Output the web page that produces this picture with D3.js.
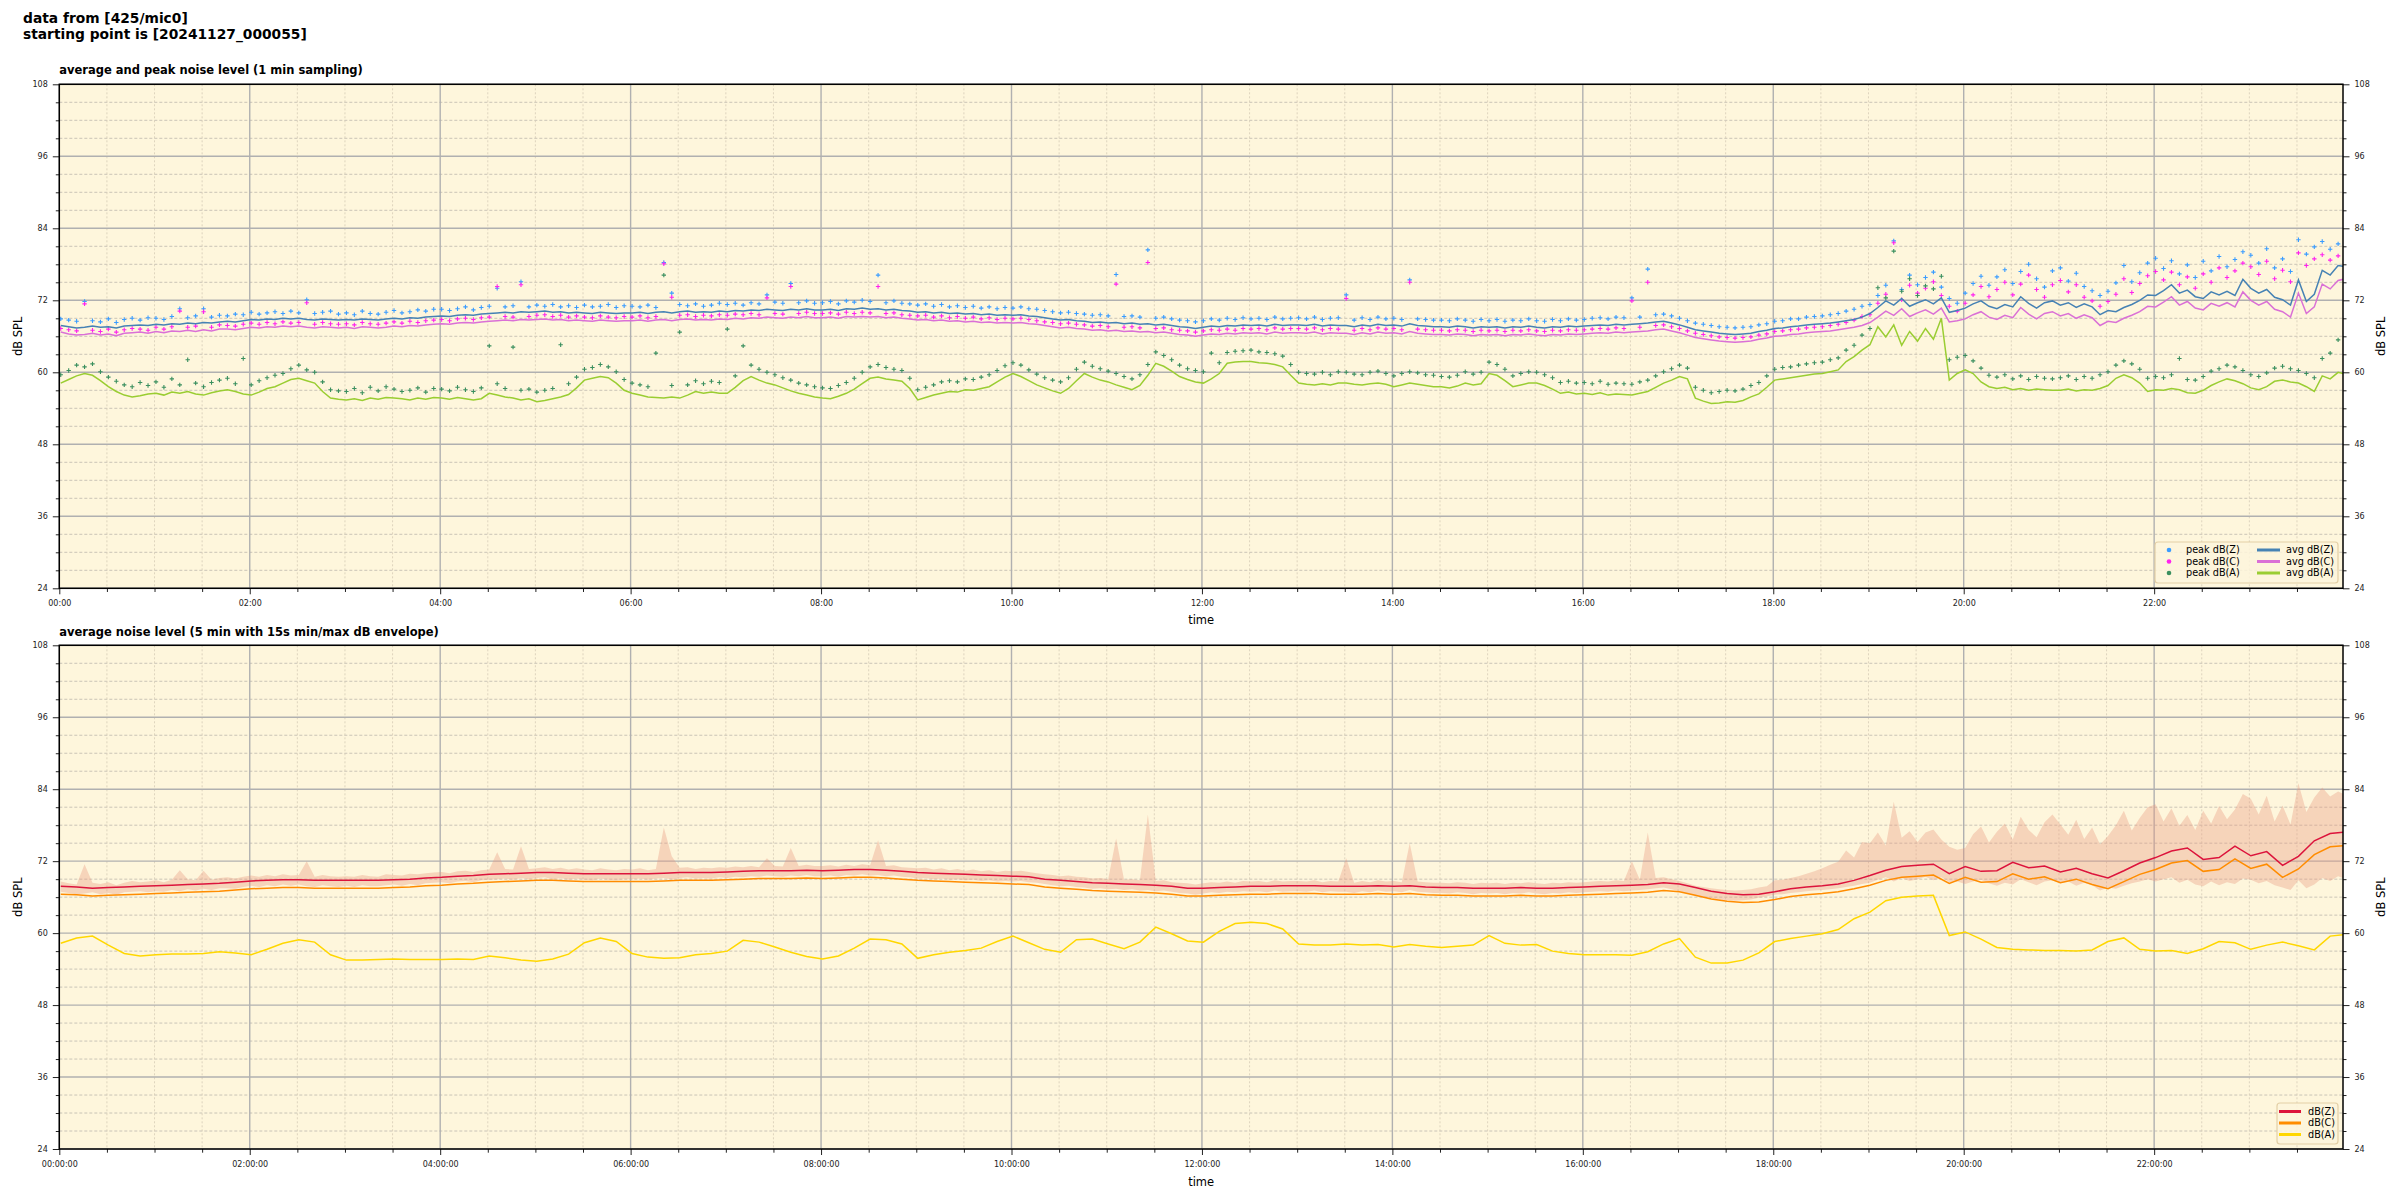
<!DOCTYPE html>
<html><head><meta charset="utf-8">
<script src="https://cdn.jsdelivr.net/npm/d3@7"></script>
<style>body{margin:0;background:#fff}svg{display:block}text{font-family:"DejaVu Sans",sans-serif}</style>
</head><body><svg id="c" width="2400" height="1200"></svg>
<script>
// ---------------- DATA ----------------
const source = "425/mic0";
const startStamp = "20241127_000055";
const yTickValues = [24, 36, 48, 60, 72, 84, 96, 108];
const xTickHours = [0, 2, 4, 6, 8, 10, 12, 14, 16, 18, 20, 22];
const xTickLabelsTop = ["00:00","02:00","04:00","06:00","08:00","10:00","12:00","14:00","16:00","18:00","20:00","22:00"];
const xTickLabelsBottom = ["00:00:00","02:00:00","04:00:00","06:00:00","08:00:00","10:00:00","12:00:00","14:00:00","16:00:00","18:00:00","20:00:00","22:00:00"];

// top panel, one value every 5 min from 00:00:55 (last value sits at the right edge)
const avgZ = [
67.8,67.6,67.4,67.5,67.7,67.5,67.6,67.4,67.7,67.8,67.9,67.8,
68.0,67.9,68.1,68.0,68.2,68.1,68.3,68.2,68.4,68.5,68.4,68.6,
68.8,68.7,68.9,68.8,69.0,68.9,69.0,68.8,68.7,68.9,68.8,68.7,
68.8,68.7,68.9,68.8,68.7,68.9,69.0,68.9,69.1,69.0,69.2,69.3,
69.4,69.3,69.5,69.6,69.5,69.7,69.8,69.9,70.0,69.9,70.1,70.0,
70.1,70.2,70.0,70.1,69.9,70.0,69.9,69.8,70.0,69.9,69.8,69.9,
69.9,70.0,69.8,70.0,70.1,69.9,70.1,70.2,70.0,70.1,70.0,70.2,
70.1,70.3,70.2,70.4,70.3,70.5,70.4,70.3,70.5,70.4,70.6,70.4,
70.4,70.5,70.3,70.6,70.5,70.7,70.5,70.6,70.4,70.5,70.3,70.2,
70.0,70.1,69.9,70.0,69.8,69.9,69.7,69.8,69.6,69.7,69.5,69.6,
69.5,69.6,69.4,69.3,69.1,68.9,68.7,68.8,68.6,68.5,68.3,68.4,
68.2,68.3,68.1,68.2,68.0,68.1,67.9,68.0,67.8,67.6,67.5,67.3,
67.5,67.7,67.6,67.8,67.7,67.9,67.8,67.9,67.7,68.0,67.8,67.9,
67.9,67.8,68.0,67.7,67.9,67.8,67.8,67.6,67.9,67.7,68.0,67.8,
67.9,67.7,68.1,67.8,67.7,67.6,67.6,67.5,67.7,67.6,67.4,67.6,
67.5,67.6,67.4,67.6,67.5,67.7,67.5,67.4,67.6,67.5,67.7,67.6,
67.7,67.8,67.9,67.8,68.0,67.9,68.0,68.1,68.2,68.4,68.5,68.2,
67.9,67.5,67.1,66.9,66.7,66.5,66.4,66.3,66.4,66.5,66.8,67.0,
67.3,67.4,67.6,67.7,67.9,68.0,68.1,68.2,68.4,68.6,68.8,69.2,
69.8,70.8,71.9,71.2,72.3,71.0,71.6,72.1,71.4,72.4,70.0,70.3,
70.7,71.4,71.9,71.0,70.6,71.3,70.9,72.6,71.5,70.7,71.6,71.9,
71.2,71.6,70.8,71.4,70.9,69.6,70.3,70.1,70.8,71.3,72.0,72.9,
72.8,73.6,74.6,73.2,73.7,72.6,72.3,73.4,72.9,73.5,72.8,75.5,
74.0,73.2,73.8,72.5,72.1,71.2,75.4,71.8,73.0,77.0,76.2,77.8,
77.6];
const avgC = [
66.7,66.4,66.2,66.3,66.5,66.2,66.4,66.1,66.5,66.6,66.7,66.5,
66.8,66.6,66.9,66.8,67.0,66.8,67.1,66.9,67.2,67.2,67.1,67.3,
67.5,67.4,67.6,67.5,67.7,67.6,67.7,67.5,67.4,67.6,67.5,67.4,
67.5,67.3,67.6,67.5,67.4,67.5,67.7,67.6,67.8,67.7,67.9,68.0,
68.1,68.0,68.2,68.3,68.2,68.4,68.5,68.6,68.7,68.6,68.8,68.7,
68.8,68.9,68.7,68.8,68.6,68.7,68.6,68.5,68.7,68.6,68.5,68.6,
68.6,68.7,68.5,68.7,68.8,68.6,68.8,68.9,68.7,68.8,68.7,68.9,
68.8,69.0,68.9,69.1,69.0,69.2,69.1,69.0,69.2,69.1,69.3,69.1,
69.1,69.2,69.0,69.3,69.2,69.3,69.2,69.3,69.1,69.2,69.0,68.9,
68.7,68.8,68.6,68.7,68.5,68.6,68.4,68.5,68.3,68.4,68.2,68.3,
68.2,68.3,68.1,68.0,67.8,67.6,67.4,67.5,67.3,67.2,67.0,67.1,
66.9,67.0,66.8,66.9,66.7,66.8,66.6,66.7,66.5,66.3,66.2,66.0,
66.2,66.4,66.3,66.5,66.4,66.6,66.5,66.6,66.4,66.7,66.5,66.6,
66.6,66.5,66.7,66.4,66.6,66.5,66.5,66.3,66.6,66.4,66.7,66.5,
66.6,66.4,66.8,66.5,66.4,66.3,66.3,66.2,66.4,66.3,66.1,66.3,
66.2,66.3,66.1,66.3,66.2,66.4,66.2,66.1,66.3,66.2,66.4,66.3,
66.4,66.5,66.6,66.5,66.7,66.6,66.7,66.8,66.9,67.1,67.2,66.9,
66.6,66.2,65.8,65.6,65.4,65.2,65.1,65.0,65.1,65.2,65.5,65.7,
66.0,66.1,66.3,66.4,66.6,66.7,66.8,66.9,67.1,67.3,67.5,67.8,
68.3,69.2,70.2,69.5,70.6,69.3,69.9,70.4,69.7,70.7,68.4,68.6,
68.9,69.6,70.1,69.2,68.8,69.5,69.1,70.8,69.7,68.9,69.8,70.1,
69.4,69.8,69.0,69.6,69.1,67.8,68.5,68.3,69.0,69.5,70.1,71.0,
70.9,71.7,72.6,71.2,71.8,70.7,70.4,71.5,71.0,71.6,70.9,73.4,
72.0,71.2,71.8,70.5,70.1,69.2,73.2,69.8,70.9,74.7,73.9,75.3,
75.6];
const avgA = [
58.2,58.8,59.4,59.8,59.5,58.6,57.6,56.8,56.2,55.9,56.1,56.4,
56.5,56.2,56.7,56.5,56.8,56.4,56.2,56.6,56.9,57.1,56.8,56.4,
56.2,56.7,57.3,57.6,58.2,58.8,59.0,58.6,58.2,56.8,55.7,55.5,
55.4,55.6,55.3,55.7,55.5,55.8,55.7,55.6,55.4,55.7,55.5,55.8,
55.7,55.5,55.8,55.6,55.4,55.6,56.5,56.2,55.9,55.7,55.4,55.6,
55.1,55.3,55.6,55.9,56.3,57.4,58.7,59.0,59.3,59.1,58.2,57.0,
56.5,56.2,55.9,55.8,55.7,55.9,55.7,56.2,56.8,56.5,56.7,56.5,
56.5,57.5,58.6,59.3,58.7,58.2,57.9,57.4,56.9,56.5,56.2,55.9,
55.7,55.6,56.0,56.5,57.2,58.1,59.0,59.2,58.9,58.7,58.5,57.3,
55.4,55.8,56.2,56.5,56.8,56.7,57.1,57.0,57.3,57.6,58.4,59.2,
59.8,59.3,58.6,57.9,57.4,56.9,56.5,57.3,58.6,59.8,59.2,58.7,
58.4,57.9,57.5,57.1,57.8,59.5,61.5,61.0,60.2,59.3,58.8,58.4,
58.2,58.9,59.8,61.5,61.7,61.8,61.8,61.6,61.5,61.3,60.9,59.5,
58.2,58.0,57.9,58.1,57.9,58.2,58.2,58.0,57.9,58.1,58.2,58.0,
57.6,57.9,58.2,58.0,57.8,57.6,57.6,57.4,57.7,58.2,57.9,58.1,
59.8,59.5,58.6,57.6,57.9,58.2,58.2,57.8,57.2,56.5,56.7,56.4,
56.5,56.3,56.6,56.2,56.4,56.3,56.2,56.5,56.8,57.5,58.2,58.7,
59.3,58.9,55.7,55.2,54.8,54.9,55.1,55.0,55.3,55.9,56.4,57.5,
58.7,58.9,59.1,59.3,59.5,59.7,59.8,60.1,60.4,61.8,62.6,63.7,
64.6,67.6,65.9,67.9,64.5,66.8,65.2,67.3,65.5,69.0,58.7,59.8,
60.4,59.8,58.4,57.6,57.3,57.5,57.1,57.3,57.0,57.2,57.1,57.0,
57.0,57.2,56.9,57.1,57.0,57.3,57.8,59.0,59.6,59.1,58.2,56.8,
57.1,57.0,57.3,57.1,56.6,56.5,57.0,57.8,58.4,58.9,58.6,58.1,
57.4,57.1,57.6,58.5,58.7,58.4,58.2,57.6,56.8,59.4,58.9,60.0,
59.7];
const peakZ = [
68.9,68.7,68.5,71.8,68.6,68.4,68.9,68.3,68.8,69.0,68.7,69.1,
69.0,68.8,69.3,70.6,69.1,69.4,70.6,69.2,69.5,69.4,69.7,69.6,
70.0,69.7,69.9,70.1,69.8,70.2,69.9,72.1,69.8,70.0,70.2,69.7,
69.9,69.6,70.2,69.8,69.7,70.0,70.3,69.9,70.1,70.4,70.2,70.5,
70.5,70.3,70.6,70.9,70.4,70.8,71.0,74.0,70.9,71.1,75.1,70.9,
71.2,71.0,71.3,70.9,71.1,70.8,71.2,70.9,71.0,71.3,70.8,71.1,
71.0,70.9,71.2,70.8,78.3,73.2,71.3,71.1,71.4,71.0,71.2,71.5,
71.3,71.5,71.2,71.6,71.4,72.9,71.7,71.5,74.8,71.6,71.9,71.5,
71.6,71.8,71.4,71.9,71.7,72.0,71.8,76.2,71.6,71.9,71.5,71.4,
71.2,71.4,71.0,71.3,70.9,71.1,70.8,71.0,70.7,70.9,70.6,70.8,
70.7,70.9,70.6,70.5,70.3,70.1,69.9,70.0,69.8,69.7,69.5,69.6,
69.4,76.3,69.3,69.4,69.2,80.4,69.0,69.2,68.9,68.7,68.6,68.4,
68.6,68.9,68.7,69.0,68.8,69.1,68.9,69.0,68.8,69.2,68.9,69.0,
69.1,68.9,69.2,68.8,69.0,69.1,72.9,68.7,69.1,68.8,69.2,68.9,
69.0,68.8,75.4,68.9,68.8,68.7,68.7,68.6,68.9,68.7,68.5,68.8,
68.6,68.8,68.5,68.7,68.6,68.9,68.6,68.5,68.8,68.6,68.9,68.7,
68.8,69.0,69.1,68.9,69.2,69.1,72.4,69.2,77.2,69.6,69.7,69.4,
69.0,68.6,68.2,68.0,67.8,67.6,67.5,67.4,67.5,67.6,67.9,68.1,
68.5,68.6,68.9,68.9,69.2,69.3,69.4,69.6,69.8,70.2,70.5,71.0,
71.3,72.8,74.5,81.9,73.8,76.2,74.6,75.8,76.7,74.2,72.3,71.5,
73.2,74.8,76.0,74.5,75.9,77.1,74.8,76.8,78.0,75.6,74.2,76.9,
77.4,75.2,76.5,74.3,73.6,72.8,73.5,74.9,77.8,75.1,76.6,78.2,
79.0,77.3,78.6,76.4,77.9,75.8,78.5,76.9,79.3,77.6,78.8,80.1,
79.5,78.2,80.6,77.4,78.9,76.8,82.1,79.7,80.9,81.8,80.5,81.4,
83.0];
const peakC = [
67.3,67.1,66.9,71.4,67.0,66.8,67.2,66.7,67.1,67.3,67.2,67.0,
67.5,67.2,67.6,70.2,67.5,67.7,70.1,67.5,67.9,67.8,67.7,68.0,
68.2,68.0,68.3,68.1,68.4,68.2,68.3,71.6,68.0,68.3,68.1,68.0,
68.1,67.9,68.3,68.1,68.0,68.2,68.4,68.2,68.5,68.3,68.6,68.7,
68.8,68.6,68.9,69.0,68.8,69.1,69.2,74.3,69.3,69.2,74.6,69.3,
69.5,69.6,69.3,69.5,69.2,69.4,69.2,69.1,69.4,69.2,69.1,69.3,
69.2,69.4,69.1,69.3,78.1,72.5,69.5,69.6,69.3,69.5,69.4,69.6,
69.5,69.7,69.6,69.8,69.6,72.4,69.8,69.7,74.3,69.8,70.0,69.8,
69.8,69.9,69.7,70.0,69.8,70.0,69.9,74.3,69.8,69.9,69.6,69.5,
69.4,69.5,69.2,69.4,69.1,69.3,69.0,69.2,68.9,69.1,68.8,69.0,
68.9,69.0,68.8,68.6,68.4,68.3,68.1,68.2,68.0,67.9,67.7,67.8,
67.6,74.7,67.5,67.6,67.4,78.3,67.3,67.4,67.1,67.0,66.9,66.7,
66.9,67.1,67.0,67.2,67.0,67.3,67.2,67.3,67.1,67.4,67.2,67.3,
67.3,67.2,67.4,67.1,67.3,67.2,72.3,67.0,67.3,67.1,67.4,67.2,
67.3,67.1,75.0,67.2,67.1,67.0,67.0,66.9,67.1,67.0,66.8,67.0,
66.9,67.0,66.8,67.0,66.9,67.1,66.9,66.8,67.0,66.9,67.1,67.0,
67.1,67.2,67.3,67.2,67.4,67.3,71.9,67.5,75.0,67.8,67.9,67.6,
67.3,66.9,66.5,66.3,66.1,65.9,65.8,65.7,65.8,65.9,66.2,66.4,
66.8,66.9,67.1,67.2,67.4,67.5,67.6,67.8,68.0,68.3,68.7,69.3,
69.6,71.5,73.0,81.6,72.1,74.5,73.2,74.0,75.1,72.8,71.0,70.2,
71.5,72.9,74.3,72.6,73.8,75.0,72.9,74.7,76.2,73.8,72.5,74.6,
75.3,73.4,74.6,72.5,71.9,71.0,71.8,73.0,75.6,73.3,74.8,76.1,
76.8,75.4,76.7,74.6,75.9,74.0,76.4,75.0,77.4,75.8,76.9,78.2,
77.6,76.3,78.5,75.6,77.0,75.1,79.9,77.8,78.9,79.6,78.7,79.4,
81.0];
const peakA = [
59.6,60.3,61.2,60.9,61.4,60.1,59.2,58.5,57.9,57.6,58.3,57.8,
58.4,57.5,58.9,57.9,62.1,58.2,57.6,58.3,58.7,59.0,58.1,62.3,
57.9,58.6,59.1,59.5,59.8,60.6,61.2,60.4,60.0,58.4,57.1,56.9,
56.8,57.3,56.6,57.5,56.9,57.6,57.2,56.8,57.0,57.4,56.7,57.3,
57.2,56.9,57.5,57.1,56.8,57.4,64.4,58.1,57.3,64.2,57.0,57.2,
56.7,57.0,57.3,64.6,58.1,59.2,60.5,60.8,61.3,60.9,60.1,58.8,
58.2,57.9,57.6,63.2,76.2,57.8,66.7,57.9,58.6,58.1,58.5,58.3,
67.2,59.4,64.4,61.2,60.5,60.0,59.6,59.1,58.7,58.2,57.9,57.6,
57.4,57.3,57.8,58.3,59.0,60.0,60.9,61.3,60.8,60.5,60.3,59.0,
57.1,57.5,57.9,58.4,58.6,58.4,58.9,58.8,59.2,59.6,60.3,61.1,
61.6,61.2,60.4,59.7,59.1,58.7,58.4,59.1,60.5,61.7,61.0,60.6,
60.2,59.8,59.3,58.9,59.6,61.3,63.4,62.8,62.1,61.2,60.6,60.3,
60.1,63.2,61.6,63.3,63.5,63.6,63.7,63.4,63.3,63.1,62.7,61.3,
60.0,59.8,59.7,60.0,59.6,60.1,60.0,59.7,59.6,60.0,60.2,59.8,
59.4,59.8,60.1,59.9,59.6,59.5,59.3,59.2,59.5,60.1,59.7,60.0,
61.7,61.3,60.5,59.4,59.8,60.1,60.0,59.6,59.1,58.3,58.5,58.2,
58.3,58.1,58.5,58.0,58.2,58.1,58.0,58.4,58.7,59.4,60.1,60.6,
61.2,60.7,57.5,57.0,56.6,56.8,57.0,56.9,57.2,57.8,58.3,59.4,
60.5,60.8,60.9,61.2,61.4,61.6,61.7,62.1,62.4,63.7,64.5,66.2,
67.3,74.1,72.4,80.2,73.5,75.6,72.8,74.4,73.9,76.0,62.1,62.5,
62.8,61.9,60.7,59.5,59.2,59.6,58.9,59.4,58.8,59.3,59.0,58.9,
59.1,59.4,58.8,59.3,59.0,59.6,60.1,61.2,61.9,61.4,60.5,59.0,
59.3,59.1,59.6,62.3,58.8,58.7,59.3,60.2,60.6,61.2,60.9,60.3,
59.6,59.3,59.9,60.7,61.0,60.6,60.3,59.8,59.1,62.3,63.2,65.4,
64.2];

// bottom panel: 5 min averages, one value every 10 min from 00:00:55 (last value at the right edge)
const dBZ = [
67.8,67.7,67.5,67.6,67.7,67.8, 67.9,68.0,68.1,68.2,68.3,68.5,
68.7,68.8,68.9,68.9,68.8,68.8, 68.8,68.8,68.8,68.9,69.0,69.2,
69.3,69.5,69.6,69.8,69.9,70.0, 70.1,70.1,70.0,69.9,69.9,69.9,
69.9,69.9,70.0,70.1,70.1,70.1, 70.2,70.3,70.4,70.4,70.4,70.5,
70.4,70.5,70.6,70.6,70.5,70.3, 70.1,70.0,69.9,69.8,69.7,69.6,
69.5,69.4,69.0,68.8,68.6,68.4, 68.3,68.2,68.1,68.0,67.8,67.5,
67.5,67.6,67.7,67.8,67.8,67.9, 67.9,67.9,67.8,67.8,67.8,67.9,
67.8,67.9,67.7,67.6,67.6,67.5, 67.5,67.5,67.6,67.5,67.5,67.6,
67.7,67.8,67.9,68.0,68.1,68.4, 68.2,67.6,67.0,66.6,66.4,66.5,
66.9,67.4,67.7,67.9,68.2,68.8, 69.6,70.5,71.1,71.3,71.5,69.9,
71.1,70.3,70.4,71.8,70.9,71.2, 70.2,70.8,69.9,69.2,70.4,71.7,
72.6,73.7,74.2,72.3,72.6,74.5, 72.9,73.6,71.3,72.8,75.4,76.6,
76.9];
const dBC = [
66.5,66.4,66.2,66.3,66.4,66.5, 66.6,66.7,66.8,66.9,67.0,67.2,
67.4,67.5,67.6,67.6,67.5,67.5, 67.5,67.5,67.5,67.6,67.7,67.9,
68.0,68.2,68.3,68.5,68.6,68.7, 68.8,68.8,68.7,68.6,68.6,68.6,
68.6,68.6,68.7,68.8,68.8,68.8, 68.9,69.0,69.1,69.1,69.1,69.2,
69.1,69.2,69.3,69.3,69.2,69.0, 68.8,68.7,68.6,68.5,68.4,68.3,
68.2,68.1,67.7,67.5,67.3,67.1, 67.0,66.9,66.8,66.7,66.5,66.2,
66.2,66.3,66.4,66.5,66.5,66.6, 66.6,66.6,66.5,66.5,66.5,66.6,
66.5,66.6,66.4,66.3,66.3,66.2, 66.2,66.2,66.3,66.2,66.2,66.3,
66.4,66.5,66.6,66.7,66.8,67.1, 66.9,66.3,65.7,65.3,65.1,65.2,
65.6,66.1,66.4,66.6,66.9,67.4, 68.0,68.8,69.3,69.5,69.7,68.3,
69.3,68.5,68.6,69.9,69.0,69.4, 68.4,69.0,68.1,67.4,68.6,69.8,
70.6,71.7,72.1,70.3,70.6,72.4, 70.8,71.5,69.3,70.7,73.1,74.4,
74.6];
const dBA = [
58.3,59.2,59.5,58.0,56.6,56.2, 56.4,56.5,56.5,56.6,56.9,56.7,
56.4,57.3,58.3,58.9,58.5,56.4, 55.5,55.5,55.6,55.7,55.6,55.6,
55.6,55.7,55.6,56.2,55.9,55.5, 55.3,55.7,56.5,58.4,59.2,58.6,
56.6,56.0,55.8,55.9,56.4,56.6, 57.0,58.8,58.5,57.7,56.8,56.1,
55.7,56.2,57.5,59.0,58.9,58.2, 55.8,56.4,56.8,57.1,57.5,58.6,
59.5,58.4,57.3,56.8,58.9,59.0, 58.2,57.4,58.5,61.0,59.9,58.7,
58.5,60.3,61.6,61.8,61.6,60.7, 58.2,58.0,58.0,58.2,58.0,58.1,
57.7,58.1,57.8,57.6,57.8,58.0, 59.6,58.3,58.0,58.1,57.0,56.6,
56.4,56.4,56.4,56.3,56.9,58.2, 59.1,56.0,55.0,55.0,55.5,56.7,
58.6,59.1,59.5,59.9,60.6,62.4, 63.5,65.4,66.0,66.2,66.3,59.6,
60.2,59.0,57.6,57.3,57.2,57.1, 57.1,57.0,57.2,58.6,59.2,57.3,
57.0,57.1,56.6,57.4,58.6,58.4, 57.3,58.0,58.5,57.9,57.2,59.5,
59.8];
// 15 s min / max envelope, one value every 5 min from 00:00:55
const envMax = [
68.6,68.3,68.1,71.5,68.4,68.2,68.5,68.0,68.4,68.7,68.5,68.6,
68.8,68.5,68.9,70.5,69.0,68.8,70.4,68.9,69.2,69.3,69.1,69.4,
69.6,69.4,69.7,69.5,69.8,69.6,69.7,72.0,69.4,69.7,69.5,69.4,
69.5,69.4,69.7,69.5,69.4,69.8,69.7,69.6,69.9,69.8,70.0,70.1,
70.2,70.0,70.3,70.4,70.2,70.5,70.6,73.5,70.7,70.6,74.5,70.7,
70.8,71.0,70.7,70.9,70.6,70.8,70.6,70.5,70.8,70.6,70.5,70.7,
70.6,70.8,70.5,70.7,77.6,72.8,70.9,71.0,70.7,70.9,70.8,71.0,
70.9,71.1,71.0,71.2,71.0,72.5,71.2,71.1,74.2,71.2,71.4,71.2,
71.2,71.3,71.1,71.4,71.2,71.5,71.3,75.5,71.2,71.3,71.0,70.9,
70.8,70.9,70.6,70.8,70.5,70.7,70.4,70.6,70.3,70.5,70.2,70.4,
70.3,70.4,70.2,70.0,69.8,69.7,69.5,69.6,69.4,69.3,69.1,69.2,
69.0,75.8,68.9,69.0,68.8,79.8,68.7,68.8,68.5,68.4,68.3,68.1,
68.3,68.5,68.4,68.6,68.4,68.7,68.6,68.7,68.5,68.8,68.6,68.7,
68.7,68.6,68.8,68.5,68.7,68.6,72.5,68.4,68.7,68.5,68.8,68.6,
68.7,68.5,75.0,68.6,68.5,68.4,68.4,68.3,68.5,68.4,68.2,68.4,
68.3,68.4,68.2,68.4,68.3,68.5,68.3,68.2,68.4,68.3,68.5,68.4,
68.5,68.6,68.7,68.6,68.8,68.7,72.0,68.9,76.8,69.2,69.3,69.0,
68.7,68.3,67.9,67.7,67.5,67.3,67.2,67.1,67.2,67.3,67.6,67.8,
68.8,68.9,69.2,69.5,69.9,70.3,70.8,71.4,71.9,73.8,72.6,75.2,
75.0,76.8,74.6,81.9,75.9,77.0,75.2,76.8,77.3,75.6,74.4,73.9,
74.2,76.5,77.8,75.1,76.9,78.3,75.6,79.4,77.2,76.0,78.5,79.8,
78.1,76.4,78.9,75.7,77.6,74.8,76.2,78.0,80.4,77.1,79.2,81.0,
81.5,78.6,80.8,77.9,79.7,77.2,80.4,78.3,81.2,79.0,80.6,83.2,
82.4,79.8,82.9,78.6,81.3,78.1,85.0,80.2,82.6,84.3,82.8,83.6,
83.0];
const envMin = [
66.9,66.7,66.5,66.6,66.8,66.5,66.7,66.4,66.8,66.9,67.0,66.8,
67.0,66.9,67.2,67.0,67.3,67.1,67.4,67.2,67.5,67.5,67.4,67.7,
67.9,67.7,68.0,67.8,68.1,67.9,68.1,67.8,67.7,68.0,67.8,67.7,
67.9,67.7,68.0,67.8,67.8,68.0,68.1,67.9,68.2,68.0,68.3,68.4,
68.5,68.3,68.6,68.7,68.5,68.8,68.9,69.0,69.1,68.9,69.2,69.0,
69.2,69.3,69.0,69.2,68.9,69.1,68.9,68.8,69.1,68.9,68.8,69.0,
69.0,69.1,68.9,69.1,69.2,69.0,69.2,69.3,69.1,69.2,69.1,69.3,
69.2,69.4,69.3,69.5,69.4,69.6,69.5,69.4,69.6,69.5,69.7,69.5,
69.5,69.6,69.4,69.7,69.6,69.8,69.6,69.7,69.5,69.6,69.4,69.3,
69.1,69.2,69.0,69.1,68.9,69.0,68.8,68.9,68.7,68.8,68.6,68.7,
68.6,68.7,68.5,68.4,68.2,68.0,67.8,67.9,67.7,67.6,67.4,67.5,
67.3,67.4,67.2,67.3,67.1,67.2,67.0,67.1,66.9,66.7,66.6,66.4,
66.6,66.8,66.7,66.9,66.8,67.0,66.9,67.0,66.8,67.1,66.9,67.0,
67.0,66.9,67.1,66.8,67.0,66.9,66.9,66.7,67.0,66.8,67.1,66.9,
67.0,66.8,67.2,66.9,66.8,66.7,66.7,66.6,66.8,66.7,66.5,66.7,
66.6,66.7,66.5,66.7,66.6,66.8,66.6,66.5,66.7,66.6,66.8,66.7,
66.8,66.9,67.0,66.9,67.1,67.0,67.1,67.2,67.3,67.5,67.6,67.3,
67.0,66.6,66.2,66.0,65.8,65.6,65.5,65.4,65.5,65.6,65.9,66.1,
66.4,66.5,66.7,66.8,67.0,67.1,67.2,67.3,67.5,67.7,67.9,68.2,
68.4,68.9,69.3,68.6,69.2,68.7,69.0,69.4,68.8,69.3,68.5,68.6,
68.2,68.6,68.9,68.3,67.9,68.4,68.1,69.0,68.5,68.0,68.6,68.8,
68.3,68.6,67.9,68.4,68.0,67.1,67.6,67.4,67.9,68.3,68.6,69.0,
68.6,69.0,69.3,68.4,68.9,68.1,67.8,68.6,68.0,68.5,68.2,69.1,
68.9,68.3,68.7,68.0,67.6,67.2,68.8,67.5,68.1,69.2,68.7,69.5,
69.0];

// ---------------- DRAWING ----------------
const W = 2400, H = 1200, L = 59.3, R = 2343;
const BG = "#fef6dc";
const svg = d3.select("#c");
svg.append("rect").attr("width", W).attr("height", H).attr("fill", "#fff");

const day = new Date(2024, 10, 27, 0, 0, 0);
const start = new Date(2024, 10, 27, 0, 0, 55);
const tTop = avgZ.map((_, i) => new Date(+start + i * 5 * 60000));
const tBot = dBZ.map((_, i) => new Date(+start + i * 10 * 60000));
const x = d3.scaleTime().domain([day, new Date(2024, 10, 27, 23, 59, 0)]).range([L, R]);
const xMajor = xTickHours.map(h => new Date(2024, 10, 27, h, 0, 0));
const xMinor = x.ticks(d3.timeMinute.every(30)).filter(d => d.getMinutes() !== 0 || d.getHours() % 2 !== 0);

svg.append("text").attr("x", 23).attr("y", 23).attr("font-size", 13.8).attr("font-weight", "bold").text(`data from [${source}]`);
svg.append("text").attr("x", 23).attr("y", 39).attr("font-size", 13.8).attr("font-weight", "bold").text(`starting point is [${startStamp}]`);

function panel(top, bottom, id, title, titleY, xLabels, xLabelY) {
  const y = d3.scaleLinear().domain([24, 108]).range([bottom, top]);
  const yMinor = d3.range(24, 108.01, 3).filter(v => !yTickValues.includes(v));
  const g = svg.append("g");
  g.append("rect").attr("x", L).attr("y", top).attr("width", R - L).attr("height", bottom - top).attr("fill", BG);
  svg.append("clipPath").attr("id", id).append("rect").attr("x", L).attr("y", top).attr("width", R - L).attr("height", bottom - top);
  g.selectAll(null).data(yMinor).join("line").attr("x1", L).attr("x2", R).attr("y1", d => y(d)).attr("y2", d => y(d))
    .attr("stroke", "#bdb8ad").attr("stroke-width", 0.8).attr("stroke-dasharray", "3,2");
  g.selectAll(null).data(xMinor).join("line").attr("y1", top).attr("y2", bottom).attr("x1", d => x(d)).attr("x2", d => x(d))
    .attr("stroke", "#d6ccb6").attr("stroke-width", 0.8).attr("stroke-dasharray", "2,2");
  g.selectAll(null).data(yTickValues).join("line").attr("x1", L).attr("x2", R).attr("y1", d => y(d)).attr("y2", d => y(d))
    .attr("stroke", "#b0b0b0").attr("stroke-width", 1.4);
  g.selectAll(null).data(xMajor).join("line").attr("y1", top).attr("y2", bottom).attr("x1", d => x(d)).attr("x2", d => x(d))
    .attr("stroke", "#b0b0b0").attr("stroke-width", 1.4);
  const data = g.append("g").attr("clip-path", `url(#${id})`);
  svg.append("text").attr("x", L).attr("y", titleY).attr("font-size", 11.5).attr("font-weight", "bold").text(title);
  const styleAxis = s => { s.select(".domain").remove(); s.selectAll("line").attr("stroke", "#222"); s.selectAll("text").attr("font-size", 8).attr("fill", "#222").attr("font-family", "DejaVu Sans"); };
  svg.append("g").attr("transform", `translate(${L},0)`).call(d3.axisLeft(y).tickValues(yTickValues).tickSize(6.5).tickPadding(5).tickFormat(d3.format("d"))).call(styleAxis);
  svg.append("g").attr("transform", `translate(${L},0)`).call(d3.axisLeft(y).tickValues(yMinor).tickSize(3.5).tickFormat("")).call(styleAxis);
  svg.append("g").attr("transform", `translate(${R},0)`).call(d3.axisRight(y).tickValues(yTickValues).tickSize(6.5).tickPadding(5).tickFormat(d3.format("d"))).call(styleAxis);
  svg.append("g").attr("transform", `translate(${R},0)`).call(d3.axisRight(y).tickValues(yMinor).tickSize(3.5).tickFormat("")).call(styleAxis);
  svg.append("g").attr("transform", `translate(0,${bottom})`).call(d3.axisBottom(x).tickValues(xMajor).tickSize(6).tickPadding(6).tickFormat((d, i) => xLabels[i])).call(styleAxis);
  svg.append("g").attr("transform", `translate(0,${bottom})`).call(d3.axisBottom(x).tickValues(xMinor).tickSize(3.7).tickFormat("")).call(styleAxis);
  svg.append("rect").attr("x", L).attr("y", top).attr("width", R - L).attr("height", bottom - top).attr("fill", "none").attr("stroke", "#000").attr("stroke-width", 1.5);
  const mid = (top + bottom) / 2;
  svg.append("text").attr("transform", `translate(22,${mid}) rotate(-90)`).attr("text-anchor", "middle").attr("font-size", 11.5).text("dB SPL");
  svg.append("text").attr("transform", `translate(2385,${mid}) rotate(-90)`).attr("text-anchor", "middle").attr("font-size", 11.5).text("dB SPL");
  svg.append("text").attr("x", (L + R) / 2).attr("y", xLabelY).attr("text-anchor", "middle").attr("font-size", 11.5).text("time");
  return { y, data };
}

// ---- top panel ----
const P1 = panel(84.3, 588.3, "clip1", "average and peak noise level (1 min sampling)", 74, xTickLabelsTop, 624);
function crosses(vals, color) {
  let p = "";
  vals.forEach((v, i) => { const cx = x(tTop[i]), cy = P1.y(v); p += `M${cx - 2.2},${cy}h4.4M${cx},${cy - 2.2}v4.4`; });
  P1.data.append("path").attr("d", p).attr("fill", "none").attr("stroke", color).attr("stroke-width", 1.1);
}
crosses(peakZ, "#3a9cff");
crosses(peakC, "#ff22ee");
crosses(peakA, "#3a8f5e");
const lineTop = d3.line().x((d, i) => x(tTop[i])).y(d => P1.y(d));
[[avgZ, "#4682b4"], [avgC, "#da70d6"], [avgA, "#9acd32"]].forEach(([v, c]) =>
  P1.data.append("path").attr("d", lineTop(v)).attr("fill", "none").attr("stroke", c).attr("stroke-width", 1.5));

const lg1 = svg.append("g");
lg1.append("rect").attr("x", 2155).attr("y", 542).attr("width", 183).attr("height", 41).attr("rx", 3)
  .attr("fill", "#fdf5dc").attr("fill-opacity", 0.85).attr("stroke", "#e3cfa6").attr("stroke-width", 1.2);
const leg1a = [["peak dB(Z)", "#3a9cff"], ["peak dB(C)", "#ff22ee"], ["peak dB(A)", "#3a8f5e"]];
const leg1b = [["avg dB(Z)", "#4682b4"], ["avg dB(C)", "#da70d6"], ["avg dB(A)", "#9acd32"]];
const rowsY1 = [550, 561.5, 573];
leg1a.forEach(([t, c], i) => {
  lg1.append("circle").attr("cx", 2169).attr("cy", rowsY1[i]).attr("r", 2.3).attr("fill", c);
  lg1.append("text").attr("x", 2186).attr("y", rowsY1[i]).attr("dy", "0.35em").attr("font-size", 9.7).text(t);
});
leg1b.forEach(([t, c], i) => {
  lg1.append("line").attr("x1", 2257).attr("x2", 2280).attr("y1", rowsY1[i]).attr("y2", rowsY1[i]).attr("stroke", c).attr("stroke-width", 3);
  lg1.append("text").attr("x", 2286).attr("y", rowsY1[i]).attr("dy", "0.35em").attr("font-size", 9.7).text(t);
});

// ---- bottom panel ----
const P2 = panel(645.3, 1149, "clip2", "average noise level (5 min with 15s min/max dB envelope)", 636, xTickLabelsBottom, 1186);
const env = d3.area().x((d, i) => x(tTop[i])).y0((d, i) => P2.y(envMin[i])).y1(d => P2.y(d));
P2.data.append("path").attr("d", env(envMax)).attr("fill", "#e9967a").attr("fill-opacity", 0.35);
const lineBot = d3.line().x((d, i) => x(tBot[i])).y(d => P2.y(d));
[[dBZ, "#dc143c"], [dBC, "#ff8c00"], [dBA, "#ffd700"]].forEach(([v, c]) =>
  P2.data.append("path").attr("d", lineBot(v)).attr("fill", "none").attr("stroke", c).attr("stroke-width", 1.5));

const lg2 = svg.append("g");
lg2.append("rect").attr("x", 2277).attr("y", 1103).attr("width", 61).attr("height", 41).attr("rx", 3)
  .attr("fill", "#fdf5dc").attr("fill-opacity", 0.85).attr("stroke", "#e3cfa6").attr("stroke-width", 1.2);
const leg2 = [["dB(Z)", "#dc143c"], ["dB(C)", "#ff8c00"], ["dB(A)", "#ffd700"]];
const rowsY2 = [1111.5, 1123, 1134.5];
leg2.forEach(([t, c], i) => {
  lg2.append("line").attr("x1", 2279).attr("x2", 2301).attr("y1", rowsY2[i]).attr("y2", rowsY2[i]).attr("stroke", c).attr("stroke-width", 3);
  lg2.append("text").attr("x", 2308).attr("y", rowsY2[i]).attr("dy", "0.35em").attr("font-size", 9.7).text(t);
});
</script></body></html>
